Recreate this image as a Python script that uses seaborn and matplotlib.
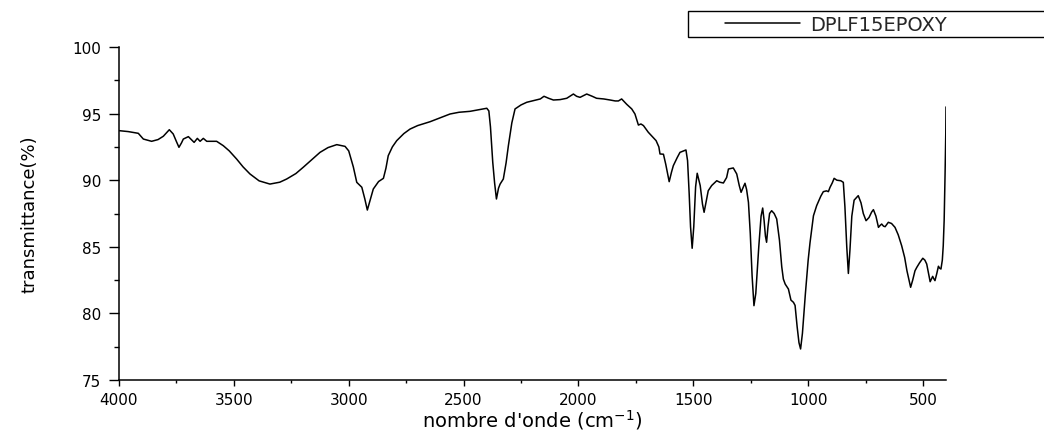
import numpy as np
import pandas as pd
import matplotlib
matplotlib.use("Agg")
import matplotlib.pyplot as plt
from matplotlib.ticker import MultipleLocator
from matplotlib.legend_handler import HandlerLine2D
import seaborn as sns

# ---- data ----
wavenumber = [
    4000, 3960, 3916, 3894, 3858, 3830, 3807, 3781, 3764, 3750, 3739, 3728, 3720,
    3698, 3673, 3659, 3647, 3633, 3618, 3575, 3546, 3520, 3488, 3460, 3430, 3390,
    3343, 3300, 3270, 3230, 3198, 3160, 3125, 3090, 3052, 3016, 3000, 2994, 2980,
    2965, 2943, 2930, 2919, 2905, 2893, 2870, 2849, 2838, 2828, 2810, 2791, 2760,
    2733, 2700, 2646, 2600, 2559, 2520, 2472, 2430, 2399, 2390, 2383, 2373, 2365,
    2357, 2348, 2341, 2327, 2315, 2305, 2290, 2276, 2250, 2225, 2190, 2166, 2150,
    2130, 2109, 2080, 2051, 2022, 2008, 1993, 1978, 1964, 1940, 1921, 1890, 1862,
    1840, 1826, 1812, 1790, 1768, 1754, 1739, 1728, 1717, 1696, 1680, 1662, 1650,
    1645, 1630, 1620, 1605, 1595, 1587, 1570, 1558, 1532, 1525, 1518, 1512, 1505,
    1498, 1490, 1483, 1470, 1460, 1453, 1445, 1435, 1420, 1398, 1385, 1369, 1355,
    1347, 1326, 1311, 1300, 1292, 1282, 1275, 1268, 1260, 1252, 1244, 1236, 1228,
    1215, 1205, 1198, 1192, 1186, 1181, 1175, 1168, 1159, 1148, 1137, 1125, 1115,
    1108, 1100, 1086, 1075, 1064, 1057, 1048, 1040, 1033, 1025, 1012, 1000, 992,
    977, 963, 945, 934, 920, 912, 905, 895, 887, 875, 858, 847, 840, 832, 825, 818,
    810, 800, 782, 770, 760, 748, 735, 724, 716, 705, 694, 687, 680, 672, 665, 651,
    637, 622, 608, 593, 580, 570, 554, 545, 535, 527, 515, 501, 492, 484, 476, 469,
    463, 458, 453, 448, 440, 433, 428, 422, 416, 412, 408, 404, 401, 400,
]
transmittance = [
    93.72, 93.65, 93.52, 93.09, 92.92, 93.05, 93.30, 93.79, 93.47, 92.90, 92.47, 92.80, 93.09,
    93.27, 92.84, 93.14, 92.92, 93.14, 92.92, 92.92, 92.59, 92.20, 91.59, 91.00, 90.47, 89.95,
    89.71, 89.85, 90.09, 90.50, 90.97, 91.55, 92.09, 92.45, 92.67, 92.54, 92.20, 91.84, 91.00,
    89.84, 89.47, 88.60, 87.76, 88.60, 89.34, 89.90, 90.14, 90.90, 91.84, 92.50, 92.97, 93.50,
    93.84, 94.10, 94.39, 94.70, 94.97, 95.10, 95.17, 95.30, 95.40, 95.20, 94.00, 91.34, 89.80,
    88.59, 89.40, 89.71, 90.09, 91.30, 92.59, 94.30, 95.35, 95.65, 95.85, 96.00, 96.10, 96.30,
    96.15, 96.02, 96.05, 96.15, 96.47, 96.30, 96.22, 96.35, 96.47, 96.30, 96.15, 96.10, 96.02,
    95.95, 95.95, 96.10, 95.70, 95.35, 94.97, 94.14, 94.22, 94.10, 93.60, 93.30, 92.97, 92.50,
    91.97, 91.95, 91.20, 89.89, 90.60, 91.09, 91.70, 92.09, 92.27, 91.47, 89.00, 86.50, 84.89,
    86.50, 89.50, 90.52, 89.60, 88.20, 87.59, 88.30, 89.21, 89.60, 89.96, 89.85, 89.79, 90.20,
    90.84, 90.92, 90.47, 89.60, 89.09, 89.50, 89.77, 89.30, 88.34, 86.00, 82.80, 80.58, 81.50,
    85.00, 87.30, 87.91, 87.00, 85.80, 85.34, 86.50, 87.50, 87.71, 87.50, 87.09, 85.50, 83.50,
    82.58, 82.20, 81.83, 81.00, 80.83, 80.60, 79.00, 77.80, 77.33, 78.50, 81.50, 84.00, 85.30,
    87.33, 88.09, 88.80, 89.14, 89.20, 89.14, 89.46, 89.80, 90.14, 90.00, 89.96, 89.84, 88.00,
    85.00, 83.00, 84.80, 87.30, 88.50, 88.84, 88.30, 87.50, 86.96, 87.20, 87.60, 87.79, 87.30,
    86.46, 86.60, 86.71, 86.55, 86.51, 86.84, 86.75, 86.46, 85.90, 85.08, 84.20, 83.20, 81.96,
    82.50, 83.20, 83.46, 83.80, 84.14, 84.00, 83.71, 83.00, 82.38, 82.60, 82.78, 82.60, 82.46,
    83.00, 83.54, 83.40, 83.33, 84.00, 85.08, 87.00, 90.50, 93.50, 95.50,
]
series_label = "DPLF15EPOXY"
x_ticks = [4000, 3500, 3000, 2500, 2000, 1500, 1000, 500]
y_ticks = [75, 80, 85, 90, 95, 100]

df = pd.DataFrame({"wavenumber": wavenumber, "transmittance": transmittance})

sns.set_theme(style="ticks")
plt.rcParams["font.family"] = ["DejaVu Sans"]
plt.rcParams["mathtext.default"] = "regular"

W, H = 1044, 435
fig = plt.figure(figsize=(W / 100, H / 100), dpi=100)
ax = fig.add_axes([119 / W, 1 - 381 / H, (946 - 119) / W, (381 - 48) / H])

sns.lineplot(data=df, x="wavenumber", y="transmittance", ax=ax, color="black",
             linewidth=1.1, estimator=None, label=series_label)

ax.set_xlim(4000, 400)
ax.set_ylim(75, 100)
ax.set_xticks(x_ticks)
ax.set_yticks(y_ticks)
ax.xaxis.set_minor_locator(MultipleLocator(250))
ax.yaxis.set_minor_locator(MultipleLocator(2.5))

sns.despine(ax=ax)
for s in ("left", "bottom"):
    ax.spines[s].set_color("black")
    ax.spines[s].set_linewidth(1.1)

ax.tick_params(axis="both", which="both", direction="out", colors="black")
ax.tick_params(axis="y", which="major", length=7, width=1.0, pad=6, labelsize=11)
ax.tick_params(axis="y", which="minor", length=3.5, width=1.0)
ax.tick_params(axis="x", which="major", length=4.5, width=1.0, pad=4, labelsize=11)
ax.tick_params(axis="x", which="minor", length=2.5, width=1.0)

ax.set_xlabel("nombre d'onde (cm$^{-1}$)", fontsize=14, color="black", labelpad=0)
ax.set_ylabel("transmittance(%)", fontsize=13, color="black", labelpad=24,
              family=["Liberation Sans Narrow", "DejaVu Sans"])

line = ax.get_lines()[0]
fs = 14
ax.legend(handles=[line], labels=[series_label],
          handler_map={line: HandlerLine2D(xpad=1.71)},
          loc="upper left", mode="expand",
          bbox_to_anchor=(688 / W, 1 - 40 / H, 420 / W, 28 / H),
          bbox_transform=fig.transFigure, borderaxespad=0,
          borderpad=0.19, handlelength=5.57, handletextpad=0.51,
          fontsize=fs, frameon=True, fancybox=False, shadow=False,
          framealpha=1, edgecolor="black")
ax.get_legend().get_frame().set_linewidth(1.0)

fig.savefig("out.png", dpi=100)
